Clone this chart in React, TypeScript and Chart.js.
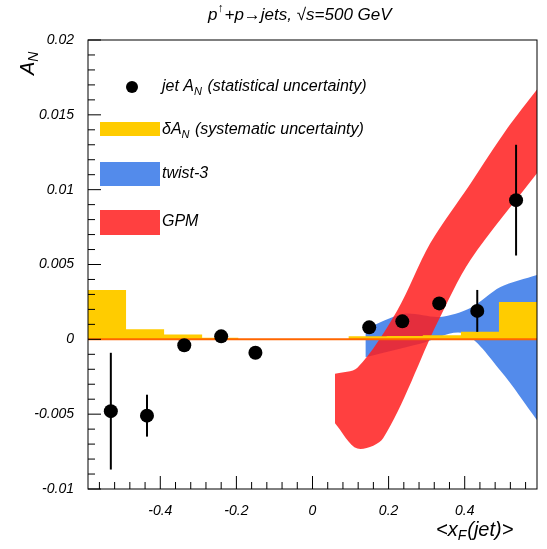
import { useRef, useEffect } from 'react';
import { Chart, registerables } from 'chart.js';

Chart.register(...registerables);

// jet A_N points
const pointX = [-0.53, -0.435, -0.337, -0.24, -0.15, 0.149, 0.236, 0.333, 0.433, 0.535];
const pointY = [-0.0048, -0.0051, -0.0004, 0.0002, -0.0009, 0.0008, 0.0012, 0.0024, 0.0019, 0.0093];
const pointErr = [0.0039, 0.0014, 0.0002, 0.0002, 0.0002, 0.0002, 0.0002, 0.0002, 0.0014, 0.0037];

// systematic uncertainty steps (bin edges / heights)
const sysX = [-0.59, -0.49, -0.39, -0.29, -0.195, -0.095, 0.095, 0.195, 0.29, 0.39, 0.49, 0.59];
const sysY = [0.0033, 0.00067, 0.00033, 0.0001, 0.00003, 0, 0.0002, 0.00022, 0.00027, 0.0005, 0.0025, 0.0025];

// GPM band
const gpmUpX = [0.059, 0.118, 0.222, 0.309, 0.415, 0.512, 0.59];
const gpmUpY = [-0.0023, -0.0019, 0.0019, 0.0064, 0.0104, 0.0141, 0.0167];
const gpmLoX = [0.059, 0.118, 0.186, 0.328, 0.415, 0.59];
const gpmLoY = [-0.0056, -0.0073, -0.0066, 0.0011, 0.0053, 0.0111];

// twist-3 band
const twUpX = [0.139, 0.239, 0.336, 0.415, 0.494, 0.59];
const twUpY = [0.0007, 0.0017, 0.0015, 0.0021, 0.0035, 0.0043];
const twLoX = [0.139, 0.283, 0.396, 0.494, 0.59];
const twLoY = [-0.0012, -0.0003, 0.0004, -0.0021, -0.0054];

const zip = (xs: number[], ys: number[]) => xs.map((x, i) => ({ x, y: ys[i] }));

const RED = 'rgba(255,30,30,0.85)';
const BLUE = 'rgba(40,110,230,0.8)';
const YELLOW = '#ffcc00';
const FONT = '"Liberation Sans", Arial, sans-serif';

const overlay = {
  id: 'overlay',
  afterDatasetsDraw(chart: any) {
    const { ctx, chartArea: a, scales } = chart;
    const xs = scales.x, ys = scales.y;
    ctx.save();
    // zero line
    ctx.strokeStyle = '#ff6600';
    ctx.lineWidth = 2;
    ctx.beginPath();
    ctx.moveTo(a.left, ys.getPixelForValue(0));
    ctx.lineTo(a.right, ys.getPixelForValue(0));
    ctx.stroke();
    // error bars + points
    ctx.strokeStyle = '#000';
    ctx.fillStyle = '#000';
    ctx.lineWidth = 2;
    pointX.forEach((x, i) => {
      const px = xs.getPixelForValue(x);
      ctx.beginPath();
      ctx.moveTo(px, ys.getPixelForValue(pointY[i] - pointErr[i]));
      ctx.lineTo(px, ys.getPixelForValue(pointY[i] + pointErr[i]));
      ctx.stroke();
      ctx.beginPath();
      ctx.arc(px, ys.getPixelForValue(pointY[i]), 7, 0, Math.PI * 2);
      ctx.fill();
    });
    // frame
    ctx.lineWidth = 1;
    ctx.strokeRect(a.left, a.top, a.right - a.left, a.bottom - a.top);
    // ticks
    for (let k = -14; k <= 14; k++) {
      const v = k * 0.04;
      const major = k % 5 === 0;
      const px = xs.getPixelForValue(v);
      ctx.beginPath();
      ctx.moveTo(px, a.bottom);
      ctx.lineTo(px, a.bottom - (major ? 13 : 7));
      ctx.stroke();
    }
    for (let k = -10; k <= 20; k++) {
      const v = k * 0.001;
      const py = ys.getPixelForValue(v);
      const major = k % 5 === 0;
      ctx.beginPath();
      ctx.moveTo(a.left, py);
      ctx.lineTo(a.left + (major ? 13 : 7), py);
      ctx.stroke();
    }
    const sub = (main: string, s: string, rest: string, x: number, y: number, size: number, sup = false) => {
      ctx.font = `italic ${size}px ${FONT}`;
      ctx.textAlign = 'left';
      ctx.fillText(main, x, y);
      let w = ctx.measureText(main).width;
      ctx.font = `italic ${Math.round(size * 0.7)}px ${FONT}`;
      ctx.fillText(s, x + w, y + size * (sup ? -0.35 : 0.3));
      w += ctx.measureText(s).width;
      ctx.font = `italic ${size}px ${FONT}`;
      ctx.fillText(rest, x + w + 1, y);
    };
    ctx.textBaseline = 'middle';
    // title
    sub('p', '\u2191', '+p\u2192jets, \u221As=500 GeV', 208, 15, 17, true);
    // y title
    ctx.save();
    ctx.translate(28, 55);
    ctx.rotate(-Math.PI / 2);
    sub('A', 'N', '', -20, 0, 20);
    ctx.restore();
    sub('<x', 'F', '(jet)>', 436, 530, 20);
    // legend
    ctx.beginPath();
    ctx.arc(132, 87, 6, 0, Math.PI * 2);
    ctx.fill();
    sub('jet A', 'N', ' (statistical uncertainty)', 162, 87, 16);
    ctx.fillStyle = YELLOW;
    ctx.fillRect(100, 122, 60, 14);
    ctx.fillStyle = '#000';
    sub('\u03B4A', 'N', ' (systematic uncertainty)', 162, 130, 16);
    ctx.fillStyle = BLUE;
    ctx.fillRect(100, 162, 60, 24);
    ctx.fillStyle = '#000';
    sub('twist-3', '', '', 162, 174, 16);
    ctx.fillStyle = RED;
    ctx.fillRect(100, 210, 60, 25);
    ctx.fillStyle = '#000';
    sub('GPM', '', '', 162, 222, 16);
    ctx.restore();
  },
};

export default function App() {
  const canvasRef = useRef<HTMLCanvasElement>(null);
  const chartRef = useRef<Chart | null>(null);

  useEffect(() => {
    if (!canvasRef.current) return;
    if (chartRef.current) chartRef.current.destroy();
    const line = { showLine: true, pointRadius: 0, borderWidth: 0 };
    const band = { ...line, tension: 0.3 };
    const tickFont = { family: FONT, size: 14, style: 'italic' as const };
    chartRef.current = new Chart(canvasRef.current, {
      type: 'scatter',
      data: {
        datasets: [
          { ...line, data: zip(sysX, sysY), stepped: 'before' as any, fill: 'origin', backgroundColor: YELLOW, borderColor: YELLOW },
          { ...band, data: zip(gpmLoX, gpmLoY), borderColor: 'transparent' },
          { ...band, data: zip(gpmUpX, gpmUpY), fill: '-1', backgroundColor: RED, borderColor: 'transparent' },
          { ...band, data: zip(twLoX, twLoY), borderColor: 'transparent' },
          { ...band, data: zip(twUpX, twUpY), fill: '-1', backgroundColor: BLUE, borderColor: 'transparent' },
        ],
      },
      options: {
        animation: false,
        responsive: false,
        layout: { padding: { left: 8, right: 10, top: 40, bottom: 0 } },
        plugins: { legend: { display: false }, tooltip: { enabled: false } },
        scales: {
          x: {
            type: 'linear',
            min: -0.59,
            max: 0.59,
            grid: { display: false },
            border: { display: false },
            afterFit: (s: any) => { s.height = 60; },
            afterBuildTicks: (s: any) => {
              s.ticks = [-0.4, -0.2, 0, 0.2, 0.4].map((v) => ({ value: v }));
            },
            ticks: { color: '#000', font: tickFont, padding: 6, callback: (v: any) => (v === 0 ? '0' : String(v)) },
          },
          y: {
            min: -0.01,
            max: 0.02,
            grid: { display: false },
            border: { display: false },
            afterFit: (s: any) => { s.width = 80; },
            afterBuildTicks: (s: any) => {
              s.ticks = [-0.01, -0.005, 0, 0.005, 0.01, 0.015, 0.02].map((v) => ({ value: v }));
            },
            ticks: { color: '#000', font: tickFont, padding: 6, callback: (v: any) => (v === 0 ? '0' : String(Math.round(v * 1000) / 1000)) },
          },
        },
      },
      plugins: [overlay],
    });
    return () => {
      if (chartRef.current) chartRef.current.destroy();
    };
  }, []);

  return (
    <div style={{ position: 'fixed', left: 0, top: 0, background: '#fff' }}>
      <canvas ref={canvasRef} width={547} height={549} />
    </div>
  );
}
